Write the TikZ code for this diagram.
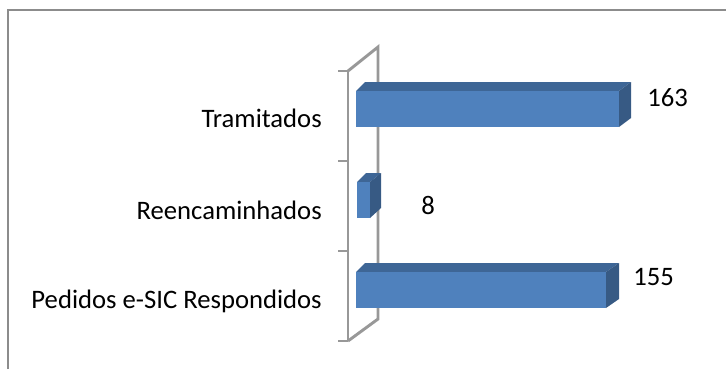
\documentclass[tikz,border=0pt]{standalone}
\usepackage{fontspec}
\setmainfont{Carlito}
\definecolor{barfront}{HTML}{4F81BD}
\definecolor{bartop}{HTML}{3E6696}
\definecolor{barside}{HTML}{375A84}
\definecolor{wallgray}{HTML}{989898}
\definecolor{framegray}{HTML}{8C8C8C}
\tikzset{
  front/.style={fill=barfront,draw=none},
  topface/.style={fill=bartop,draw=none},
  sideface/.style={fill=barside,draw=none},
  wall/.style={draw=wallgray,line width=2.2pt},
  lbl/.style={font=\fontsize{20}{24}\selectfont,inner sep=0pt,anchor=base east},
  val/.style={font=\fontsize{20}{24}\selectfont,inner sep=0pt,anchor=base west}
}
\begin{document}
\begin{tikzpicture}[x=0.75pt,y=-0.75pt]
\useasboundingbox (0,0) rectangle (726,369);
% frame (top and left visible)
\draw[framegray,line width=1.5pt] (8,369) -- (8,10) -- (726,10);
% wall
\draw[wall] (348,71) -- (378,47) -- (378,319) -- (348,341);
\draw[wall] (348,71) -- (348,341);
\draw[wall] (338,71) -- (348,71);
\draw[wall] (338,161) -- (348,161);
\draw[wall] (338,251) -- (348,251);
\draw[wall] (338,341) -- (348,341);
% bar 1
\fill[topface] (356,91) -- (365,82) -- (631,82) -- (619,91) -- cycle;
\fill[sideface] (619,91) -- (631,82) -- (631,118) -- (619,127) -- cycle;
\fill[front] (356,91) rectangle (619,127);
% bar 2
\fill[topface] (357,182) -- (366,173) -- (381,173) -- (370,182) -- cycle;
\fill[sideface] (370,182) -- (381,173) -- (381,208) -- (370,218) -- cycle;
\fill[front] (357,182) rectangle (370,218);
% bar 3
\fill[topface] (356,272) -- (365,263) -- (619,263) -- (606,272) -- cycle;
\fill[sideface] (606,272) -- (619,263) -- (619,299) -- (606,308) -- cycle;
\fill[front] (356,272) rectangle (606,308);
% labels
\node[lbl] (l1) at (322,127) {Tramitados};
\node[lbl] (l2) at (322,219) {Reencaminhados};
\node[lbl] (l3) at (322,308) {Pedidos e-SIC Respondidos};
\node[val] (v1) at (647,106) {163};
\node[val] (v2) at (421,214) {8};
\node[val] (v3) at (633,285) {155};
\end{tikzpicture}
\end{document}
